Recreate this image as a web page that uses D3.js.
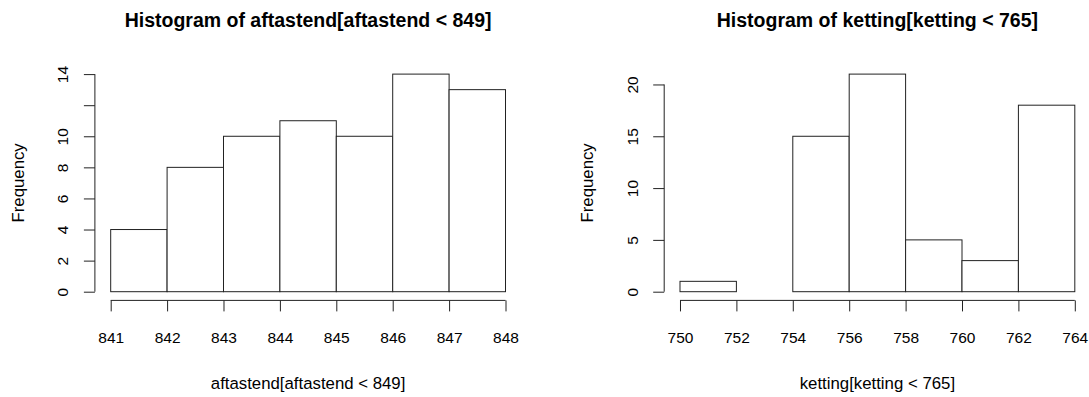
<!DOCTYPE html>
<html>
<head>
<meta charset="utf-8">
<script src="https://cdn.jsdelivr.net/npm/d3@7"></script>
<style>
  body { margin: 0; background: #fff; }
  svg { display: block; }
</style>
</head>
<body>
<div id="chart"></div>
<script>
// left histogram: aftastend[aftastend < 849]
const aftBreaks = [841, 842, 843, 844, 845, 846, 847, 848];
const aftCounts = [4, 8, 10, 11, 10, 14, 13];
const aftYTicks = [0, 2, 4, 6, 8, 10, 12, 14];
const aftYHidden = [12]; // R drops this label (overlap)

// right histogram: ketting[ketting < 765]
const ketBreaks = [750, 752, 754, 756, 758, 760, 762, 764];
const ketCounts = [1, 0, 15, 21, 5, 3, 18];
const ketYTicks = [0, 5, 10, 15, 20];
const ketYHidden = [];

const titles = ['Histogram of aftastend[aftastend < 849]', 'Histogram of ketting[ketting < 765]'];
const xLabels = ['aftastend[aftastend < 849]', 'ketting[ketting < 765]'];
const yLabel = 'Frequency';

const width = 1089, height = 397;
const font = '"Liberation Sans", Arial, Helvetica, sans-serif';
const ink = '#222';

const svg = d3.select('#chart')
  .append('svg')
  .attr('width', width)
  .attr('height', height)
  .attr('font-family', font);

const panels = [
  { left: 94.9, breaks: aftBreaks, counts: aftCounts, yTicks: aftYTicks, yHidden: aftYHidden },
  { left: 664.2, breaks: ketBreaks, counts: ketCounts, yTicks: ketYTicks, yHidden: ketYHidden }
];

const plotW = 426.4, plotTop = 65.4, plotBottom = 300.4;

panels.forEach((p, i) => {
  const x0 = p.breaks[0], x1 = p.breaks[p.breaks.length - 1];
  const xPad = (x1 - x0) * 0.04;
  const yMax = d3.max(p.counts);
  const yPad = yMax * 0.04;

  const x = d3.scaleLinear().domain([x0 - xPad, x1 + xPad]).range([p.left, p.left + plotW]);
  const y = d3.scaleLinear().domain([-yPad, yMax + yPad]).range([plotBottom, plotTop]);

  const g = svg.append('g');

  // bars
  g.selectAll('rect')
    .data(p.counts)
    .join('rect')
    .attr('x', (d, j) => x(p.breaks[j]))
    .attr('width', (d, j) => x(p.breaks[j + 1]) - x(p.breaks[j]))
    .attr('y', d => y(d))
    .attr('height', d => y(0) - y(d))
    .attr('fill', '#fff')
    .attr('stroke', ink)
    .attr('stroke-width', 1);

  // x axis
  const xAxis = g.append('g')
    .attr('transform', `translate(0,${plotBottom})`)
    .call(d3.axisBottom(x).tickValues(p.breaks).tickFormat(d3.format('d')).tickSize(11).tickSizeOuter(0).tickPadding(20.5));
  xAxis.select('.domain').remove();
  xAxis.append('line')
    .attr('x1', x(x0)).attr('x2', x(x1))
    .attr('stroke', ink);
  xAxis.selectAll('.tick line').attr('stroke', ink);
  xAxis.selectAll('.tick text')
    .attr('fill', '#000')
    .style('font-size', '15.5px')
    .style('font-family', font);

  // y axis
  const yTop = p.yTicks[p.yTicks.length - 1];
  const yAxis = g.append('g')
    .attr('transform', `translate(${p.left},0)`)
    .call(d3.axisLeft(y).tickValues(p.yTicks)
      .tickFormat(d => (p.yHidden.includes(d) ? '' : d))
      .tickSize(11).tickSizeOuter(0));
  yAxis.select('.domain').remove();
  yAxis.append('line')
    .attr('y1', y(0)).attr('y2', y(yTop))
    .attr('stroke', ink);
  yAxis.selectAll('.tick line').attr('stroke', ink);
  yAxis.selectAll('.tick text')
    .attr('fill', '#000')
    .attr('text-anchor', 'middle')
    .attr('x', 0)
    .attr('y', -26.5)
    .attr('dy', 0)
    .attr('transform', 'rotate(-90)')
    .style('font-size', '15.5px')
    .style('font-family', font);

  // title
  const cx = p.left + plotW / 2;
  svg.append('text')
    .attr('x', cx)
    .attr('y', 27)
    .attr('text-anchor', 'middle')
    .style('font-size', '19.5px')
    .style('font-weight', 'bold')
    .text(titles[i]);

  // x label
  svg.append('text')
    .attr('x', cx)
    .attr('y', 389)
    .attr('text-anchor', 'middle')
    .style('font-size', '16.8px')
    .text(xLabels[i]);

  // y label
  svg.append('text')
    .attr('transform', `translate(${p.left - 71},${(plotTop + plotBottom) / 2}) rotate(-90)`)
    .attr('text-anchor', 'middle')
    .style('font-size', '16.8px')
    .text(yLabel);
});
</script>
</body>
</html>
